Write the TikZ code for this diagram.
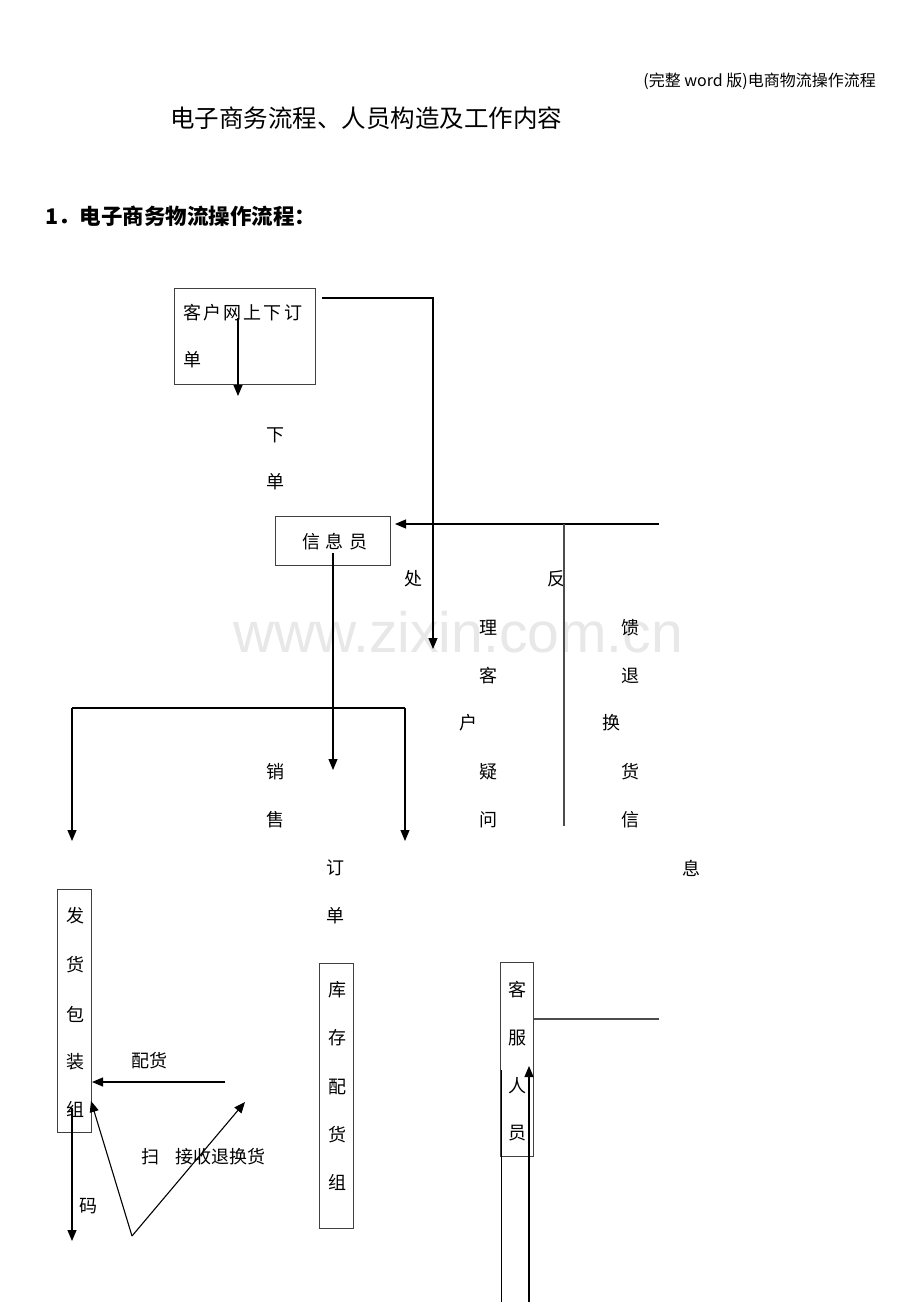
\documentclass[tikz,border=0pt]{standalone}
\usepackage{fontspec}
\newfontfamily\cjk{Noto Sans CJK SC}
\newfontfamily\wmfont{Liberation Sans}
\usetikzlibrary{arrows.meta}
\begin{document}
\begin{tikzpicture}[x=1pt,y=-1pt,
  box/.style={draw=black!75, line width=0.8pt, inner sep=0pt},
  ch/.style={font=\cjk\fontsize{18}{18}\selectfont, inner sep=0pt},
  ln/.style={line width=1.1pt},
  gln/.style={line width=1.1pt, draw=black!70},
  arr/.style={line width=1.1pt, -{Triangle[length=11pt,width=9pt]}}]
\useasboundingbox[fill=white] (0,0) rectangle (920,1302);
% watermark
\node[font=\wmfont\fontsize{57}{57}\selectfont, text=black!9, inner sep=0pt] (wm) at (458,632) {www.zixin.com.cn};
% header and titles
\node[font=\cjk\fontsize{16}{16}\selectfont, anchor=east, inner sep=0pt] (hdr) at (876,81) {(完整 word 版)电商物流操作流程};
\node[font=\cjk\fontsize{24.5}{24.5}\selectfont, anchor=west, inner sep=0pt] (title) at (170,118) {电子商务流程、人员构造及工作内容};
\node[font=\cjk\bfseries\fontsize{21.5}{21.5}\selectfont, anchor=west, inner sep=0pt] (sec) at (45,216) {1．电子商务物流操作流程：};
% boxes
\node[box, minimum width=141pt, minimum height=96pt] (b1) at (244.5,336) {};
\node[ch, anchor=west] (t1) at (183,313) {客\kern2.2pt户\kern2.2pt网\kern2.2pt上\kern2.2pt下\kern2.2pt订};
\node[ch] (t1b) at (192,360) {单};
\node[box, minimum width=115pt, minimum height=49pt] (b2) at (332.5,540.5) {};
\node[ch] (t2) at (335,542) {信\kern6pt息\kern6pt员};
\node[box, minimum width=34pt, minimum height=243pt] (b3) at (74,1010.5) {};
\node[box, minimum width=34pt, minimum height=265pt] (b4) at (336,1095.5) {};
\node[box, minimum width=33pt, minimum height=194pt] (b5) at (517,1059) {};
% box vertical texts
\foreach \c/\y in {发/916,货/965,包/1014,装/1062,组/1109} \node[ch] at (75,\y) {\c};
\foreach \c/\y in {库/990,存/1038,配/1087,货/1135,组/1182} \node[ch] at (337,\y) {\c};
\foreach \c/\y in {客/990,服/1038,人/1086,员/1133} \node[ch] at (517,\y) {\c};
% free labels
\foreach \c/\x/\y in {下/275/435, 单/275/482, 处/413/579, 反/556/579, 理/488/628, 馈/630/628,
  客/488/676, 退/630/676, 户/468/723, 换/611/723, 销/275/772, 疑/488/772, 货/630/772,
  售/275/820, 问/488/820, 信/630/820, 订/335/868, 息/691/868, 单/335/916, 码/88/1206, 扫/150/1157}
  \node[ch] at (\x,\y) {\c};
\node[ch] (lpei) at (149,1061) {配货};
\node[ch] (ljie) at (220,1157) {接收退换货};
% coordinates
\coordinate (c1s) at (238,318);
\coordinate (c1e) at (238,396);
\coordinate (c2s) at (322,298);
\coordinate (c2m) at (433,298);
\coordinate (c2e) at (433,649);
\coordinate (c3s) at (659,524);
\coordinate (c3e) at (395,524);
\coordinate (c3m) at (564,524);
\coordinate (c3b) at (564,826);
\coordinate (c4s) at (333,553);
\coordinate (c4e) at (333,770);
\coordinate (c5l) at (72,708);
\coordinate (c5r) at (405,708);
\coordinate (c5le) at (72,841);
\coordinate (c5re) at (405,841);
\coordinate (c6s) at (225,1082);
\coordinate (c6e) at (92,1082);
\coordinate (c7v) at (132,1236);
\coordinate (c7t) at (91,1101);
\coordinate (c7e) at (245,1102);
\coordinate (c8s) at (72,1108);
\coordinate (c8e) at (72,1241);
\coordinate (c9s) at (659,1019);
\coordinate (c10a) at (501,1070);
\coordinate (c10b) at (501,1302);
\coordinate (c11s) at (529,1302);
\coordinate (c11e) at (529,1066);
% connectors
\draw[arr] (c1s) -- (c1e);
\draw[arr] (c2s) -- (c2m) -- (c2e);
\draw[arr] (c3s) -- (c3e);
\draw[gln] (c3m) -- (c3b);
\draw[arr] (c4s) -- (c4e);
\draw[ln] (c5l) -- (c5r);
\draw[arr] (c5l) -- (c5le);
\draw[arr] (c5r) -- (c5re);
\draw[arr] (c6s) -- (c6e);
\draw[arr] (c7v) -- (c7t);
\draw[arr] (c7v) -- (c7e);
\draw[arr] (c8s) -- (c8e);
\draw[gln] (b5.east |- c9s) -- (c9s);
\draw[line width=0.8pt] (c10a) -- (c10b);
\draw[arr] (c11s) -- (c11e);
\end{tikzpicture}
\end{document}
